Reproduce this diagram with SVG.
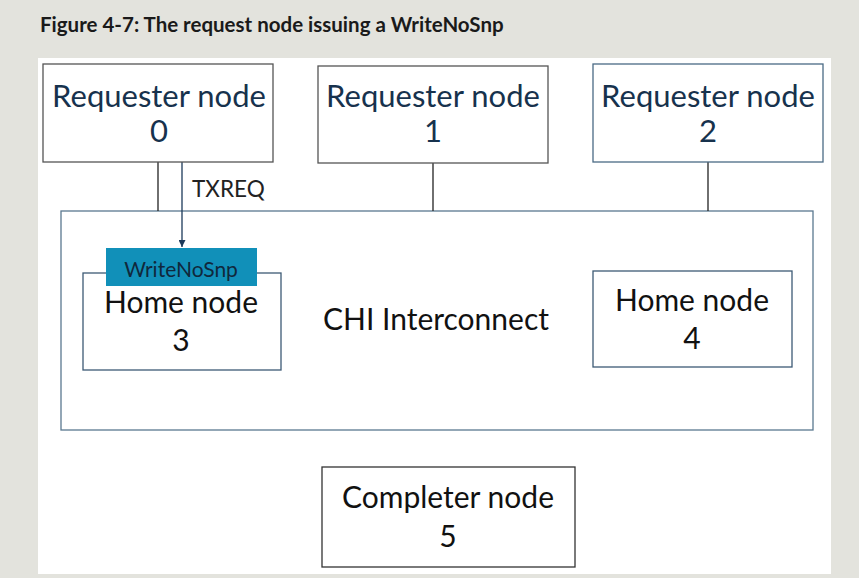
<svg xmlns="http://www.w3.org/2000/svg" width="859" height="578" viewBox="0 0 859 578">
<defs>
<style>
.box{fill:#ffffff;stroke-width:1.3}
.req{font-family:Lato,"Open Sans","Liberation Sans",sans-serif;font-size:31px;fill:#17324d;text-anchor:middle}
.home{font-family:Lato,"Open Sans","Liberation Sans",sans-serif;font-size:30px;fill:#111111;text-anchor:middle}
.conn{stroke:#222222;stroke-width:1.3;fill:none}
</style>
<marker id="ah" viewBox="0 0 10 10" refX="10" refY="5" markerWidth="7" markerHeight="7" orient="auto" markerUnits="userSpaceOnUse">
<path d="M0,0 L10,5 L0,10 z" fill="#1d3a5a"/>
</marker>
</defs>
<rect width="859" height="578" fill="#e3e3dd"/>
<rect x="38" y="58" width="793" height="516" fill="#ffffff"/>
<text x="40" y="32" font-family="Lato,'Open Sans','Liberation Sans',sans-serif" font-weight="bold" font-size="20.5" fill="#1a1a1a">Figure 4-7: The request node issuing a WriteNoSnp</text>

<g id="chi">
<rect class="box" x="61" y="211" width="752" height="219" stroke="#5a7890"/>
<text class="home" x="436" y="330" font-size="31">CHI Interconnect</text>
</g>

<g id="connectors">
<line class="conn" x1="158" y1="162" x2="158" y2="211"/>
<line class="conn" x1="433" y1="163" x2="433" y2="211"/>
<line class="conn" x1="708" y1="162" x2="708" y2="211"/>
<line x1="182" y1="138" x2="182" y2="247" stroke="#1d3a5a" stroke-width="1.3" marker-end="url(#ah)"/>
<text x="192" y="197" font-family="Lato,'Open Sans','Liberation Sans',sans-serif" font-size="22.5" fill="#222222">TXREQ</text>
</g>

<g id="req0">
<rect class="box" x="43" y="64" width="230" height="98" stroke="#555555"/>
<text class="req" x="159" y="107">Requester node</text>
<text class="req" x="159" y="142">0</text>
</g>
<g id="req1">
<rect class="box" x="318" y="66" width="230" height="97" stroke="#555555"/>
<text class="req" x="433" y="107">Requester node</text>
<text class="req" x="433" y="142">1</text>
</g>
<g id="req2">
<rect class="box" x="593" y="64" width="230" height="98" stroke="#4a6a85"/>
<text class="req" x="708" y="107">Requester node</text>
<text class="req" x="708" y="142">2</text>
</g>

<g id="home3">
<rect class="box" x="83" y="273" width="198" height="97" stroke="#3d5a75"/>
<rect x="106" y="248" width="151" height="38" fill="#1190b9"/>
<text x="181" y="277" font-family="Lato,'Open Sans','Liberation Sans',sans-serif" font-size="21" fill="#10283c" text-anchor="middle">WriteNoSnp</text>
<text class="home" x="181" y="313">Home node</text>
<text class="home" x="181" y="351">3</text>
</g>
<g id="home4">
<rect class="box" x="593" y="271" width="199" height="96" stroke="#3d5a75"/>
<text class="home" x="692" y="311">Home node</text>
<text class="home" x="692" y="349">4</text>
</g>
<g id="completer5">
<rect class="box" x="322" y="467" width="253" height="100" stroke="#333333"/>
<text class="home" x="448" y="508">Completer node</text>
<text class="home" x="448" y="547">5</text>
</g>
</svg>
